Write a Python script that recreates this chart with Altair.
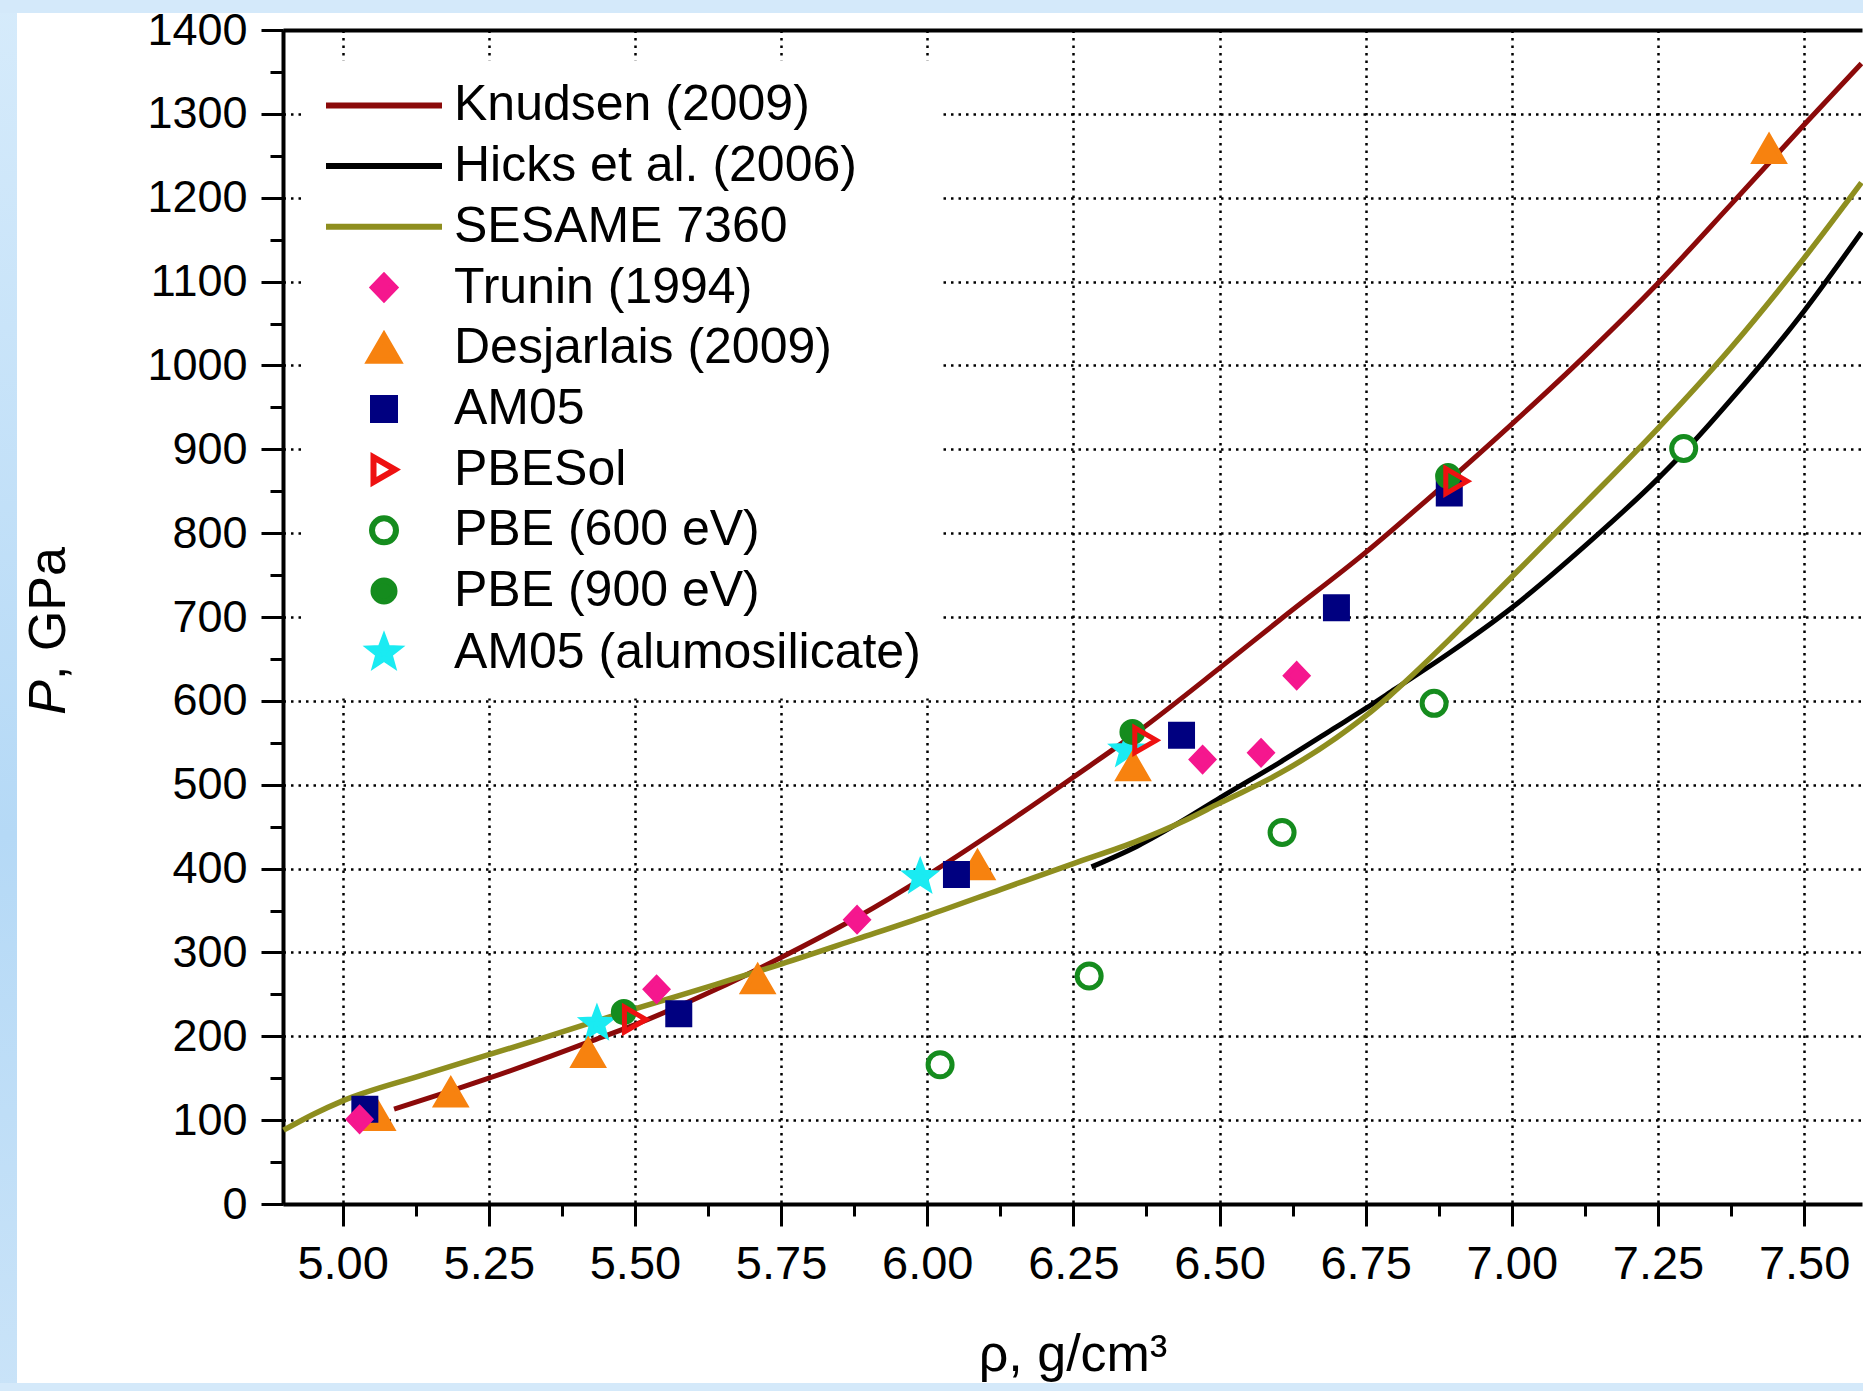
import altair as alt
import pandas as pd

# ---------------- data ----------------
knudsen_rho = [5.088, 5.185, 5.25, 5.355, 5.42, 5.497, 5.639, 5.75, 5.88, 6.00, 6.125, 6.25,
               6.36, 6.50, 6.604, 6.75, 6.875, 7.00, 7.126, 7.25, 7.375, 7.50, 7.598]
knudsen_p = [113, 135, 150, 176, 193, 213, 256, 294, 342, 392, 449, 509,
             563, 639, 697, 777, 852, 930, 1012, 1098, 1192, 1287, 1360]

hicks_rho = [6.281, 6.36, 6.439, 6.5, 6.604, 6.70, 6.75, 6.80, 6.893, 7.0, 7.127, 7.25,
             7.295, 7.376, 7.5, 7.598]
hicks_p = [402, 427, 458, 484, 527, 569, 591, 614, 657, 711, 786, 865,
           897, 960, 1065, 1159]

sesame_rho = [4.899, 4.95, 5.0, 5.128, 5.25, 5.338, 5.497, 5.639, 5.75, 5.88, 6.0, 6.125, 6.25,
              6.36, 6.44, 6.5, 6.604, 6.70, 6.75, 6.791, 6.893, 7.0, 7.127, 7.25, 7.376,
              7.5, 7.598]
sesame_p = [88, 107, 123, 152, 178, 197, 232, 262, 286, 316, 344, 375, 406,
            433, 457, 478, 514, 556, 582, 606, 673, 748, 837, 925, 1022,
            1128, 1218]

desjarlais_rho = [5.06, 5.185, 5.42, 5.71, 6.086, 6.352, 7.44]
desjarlais_p = [105, 133, 180, 268, 404, 522, 1258]

am05_rho = [5.038, 5.575, 6.05, 6.435, 6.70, 6.893]
am05_p = [113, 227, 393, 559, 711, 848]

alumo_rho = [5.435, 5.988, 6.342]
alumo_p = [215, 390, 541]

pbe600_rho = [6.022, 6.277, 6.607, 6.867, 7.294]
pbe600_p = [166, 272, 443, 597, 901]

pbe900_rho = [5.481, 6.351, 6.891]
pbe900_p = [229, 563, 868]

pbesol_rho = [5.500, 6.373, 6.905]
pbesol_p = [220, 553, 862]

trunin_rho = [5.029, 5.537, 5.88, 6.471, 6.571, 6.632]
trunin_p = [101, 256, 339, 530, 538, 630]

series_names = ["Knudsen (2009)", "Hicks et al. (2006)", "SESAME 7360", "Trunin (1994)",
                "Desjarlais (2009)", "AM05", "PBESol", "PBE (600 eV)", "PBE (900 eV)",
                "AM05 (alumosilicate)"]
series_stroke = ["#8B0A0A", "#000000", "#8E8E1F", "#F5178E", "#F7820F", "#000080",
                 "#EE1111", "#158C1E", "#158C1E", "#1AEBF2"]
series_fill = ["transparent", "transparent", "transparent", "#F5178E", "#F7820F", "#000080",
               "transparent", "white", "#158C1E", "#1AEBF2"]

LINE_SYM = "M-5.8,0H5.8"
DIAMOND = "M0,-1.15L1.1,0L0,1.15L-1.1,0Z"
TRI_UP = "M0,-1.25L1.45,1.25L-1.45,1.25Z"
SQUARE = "M-1.1,-1.1H1.1V1.1H-1.1Z"
TRI_RIGHT = "M1.1,0L-1.05,1.25L-1.05,-1.25Z"
CIRCLE_OPEN = "M1.2,0A1.2,1.2,0,1,1,-1.2,0A1.2,1.2,0,1,1,1.2,0Z"
CIRCLE_FULL = "M1.05,0A1.05,1.05,0,1,1,-1.05,0A1.05,1.05,0,1,1,1.05,0Z"
STAR = ("M0,-1.4L0.346,-0.476L1.331,-0.433L0.559,0.182L0.823,1.133L0,0.588"
        "L-0.823,1.133L-0.559,0.182L-1.331,-0.433L-0.346,-0.476Z")
series_shape = [LINE_SYM, LINE_SYM, LINE_SYM, DIAMOND, TRI_UP, SQUARE, TRI_RIGHT,
                CIRCLE_OPEN, CIRCLE_FULL, STAR]

x_ticks = [5.0, 5.25, 5.5, 5.75, 6.0, 6.25, 6.5, 6.75, 7.0, 7.25, 7.5]
x_minor = [5.125, 5.375, 5.625, 5.875, 6.125, 6.375, 6.625, 6.875, 7.125, 7.375]
y_ticks = [0, 100, 200, 300, 400, 500, 600, 700, 800, 900, 1000, 1100, 1200, 1300, 1400]
y_minor = [50, 150, 250, 350, 450, 550, 650, 750, 850, 950, 1050, 1150, 1250, 1350]

x_title = "ρ, g/cm³"
y_title_italic = "P"
y_title_rest = ", GPa"

# ---------------- layout constants ----------------
FONT = "Liberation Sans"
W, H = 1579, 1174
PAD_L, PAD_T, PAD_R, PAD_B = 283, 30, 1, 187

xs = alt.Scale(domain=[4.898, 7.599], nice=False, zero=False)
ys = alt.Scale(domain=[0, 1400], nice=False, zero=False)

GRID = dict(grid=True, gridDash=[2.5, 5], gridColor="black", gridWidth=2.5, gridOpacity=1)

major_x = alt.Axis(orient="bottom", values=x_ticks, format=".2f", labelFont=FONT,
                   labelFontSize=47, labelPadding=15, labelColor="black", labelFlush=False,
                   labelOverlap=False, tickSize=22, tickWidth=3, tickColor="black",
                   domainWidth=4, domainColor="black", title=x_title,
                   titleFont=FONT, titleFontSize=52, titleFontWeight="normal",
                   titleColor="black", titleY=166, titleBaseline="alphabetic", **GRID)
major_y = alt.Axis(orient="left", values=y_ticks, format="d", labelFont=FONT,
                   labelFontSize=45, labelPadding=14, labelColor="black", labelFlush=False,
                   labelOverlap=False, tickSize=22, tickWidth=3, tickColor="black",
                   domainWidth=4, domainColor="black", title=None, **GRID)
minor_x = alt.Axis(orient="bottom", values=x_minor, labels=False, domain=False, grid=False,
                   tickSize=12, tickWidth=3, tickColor="black", title=None)
minor_y = alt.Axis(orient="left", values=y_minor, labels=False, domain=False, grid=False,
                   tickSize=13, tickWidth=3, tickColor="black", title=None)
top_x = alt.Axis(orient="top", labels=False, ticks=False, grid=False, domain=True,
                 domainWidth=4, domainColor="black", title=None)


def line_layer(rho, p, color, ax_x, ax_y, width):
    df = pd.DataFrame({"rho": rho, "P": p})
    return alt.Chart(df).mark_line(color=color, strokeWidth=width, interpolate="monotone").encode(
        x=alt.X("rho:Q", scale=xs, axis=ax_x),
        y=alt.Y("P:Q", scale=ys, axis=ax_y),
    )


knudsen = line_layer(knudsen_rho, knudsen_p, series_stroke[0], major_x, major_y, 5)
hicks = line_layer(hicks_rho, hicks_p, series_stroke[1], minor_x, minor_y, 5)
sesame = line_layer(sesame_rho, sesame_p, series_stroke[2], top_x, None, 5.5)

# points (drawing order: bottom to top)
point_sets = [
    ("AM05 (alumosilicate)", alumo_rho, alumo_p),
    ("Desjarlais (2009)", desjarlais_rho, desjarlais_p),
    ("AM05", am05_rho, am05_p),
    ("PBE (600 eV)", pbe600_rho, pbe600_p),
    ("PBE (900 eV)", pbe900_rho, pbe900_p),
    ("PBESol", pbesol_rho, pbesol_p),
    ("Trunin (1994)", trunin_rho, trunin_p),
]
rows = []
for name, rr, pp in point_sets:
    for r, p in zip(rr, pp):
        rows.append({"series": name, "rho": r, "P": p})
pts_df = pd.DataFrame(rows)

leg = alt.Legend(title=None, orient="none", legendX=21, legendY=30.4, direction="vertical",
                 symbolSize=400, symbolStrokeWidth=6, symbolOffset=35, labelOffset=45,
                 labelFont=FONT, labelFontSize=50, labelColor="black", labelLimit=0,
                 rowPadding=10.7, padding=20, fillColor="white")

points = alt.Chart(pts_df).mark_point(size=400, strokeWidth=5, opacity=1).encode(
    x=alt.X("rho:Q", scale=xs, axis=None),
    y=alt.Y("P:Q", scale=ys, axis=None),
    shape=alt.Shape("series:N", scale=alt.Scale(domain=series_names, range=series_shape), legend=leg),
    fill=alt.Fill("series:N", scale=alt.Scale(domain=series_names, range=series_fill), legend=leg),
    stroke=alt.Stroke("series:N", scale=alt.Scale(domain=series_names, range=series_stroke), legend=leg),
)

# y-axis title with italic P
one = alt.Data(values=[{"a": y_title_italic, "b": y_title_rest}])
ytitle_p = alt.Chart(one).mark_text(font=FONT, fontSize=52, fontStyle="italic", angle=270,
                                    align="right", baseline="alphabetic", color="black").encode(
    text="a:N", x=alt.value(-218), y=alt.value(650))
ytitle_rest = alt.Chart(one).mark_text(font=FONT, fontSize=52, angle=270, align="left",
                                       baseline="alphabetic", color="black").encode(
    text="b:N", x=alt.value(-218), y=alt.value(650))

# light-blue frame strips around the white page
blank = alt.Data(values=[{"k": 1}])
side_grad = alt.LinearGradient(gradient="linear", x1=0, x2=0, y1=0, y2=1,
                               stops=[alt.GradientStop(color="#d6ebfb", offset=0),
                                      alt.GradientStop(color="#b5d9f6", offset=0.6),
                                      alt.GradientStop(color="#c9e3f8", offset=1)])
strip_left = alt.Chart(blank).mark_rect(color=side_grad).encode(
    x=alt.value(-PAD_L), x2=alt.value(-PAD_L + 17), y=alt.value(-PAD_T), y2=alt.value(H + PAD_B))
strip_top = alt.Chart(blank).mark_rect(color="#d4e9fa").encode(
    x=alt.value(-PAD_L), x2=alt.value(W + PAD_R), y=alt.value(-PAD_T), y2=alt.value(-PAD_T + 13))
strip_bottom = alt.Chart(blank).mark_rect(color="#d4e9fa").encode(
    x=alt.value(-PAD_L), x2=alt.value(W + PAD_R), y=alt.value(H + PAD_B - 8), y2=alt.value(H + PAD_B))

chart = alt.layer(
    strip_left, strip_top, strip_bottom,
    knudsen, hicks, sesame, points, ytitle_p, ytitle_rest,
).resolve_axis(x="independent", y="independent").properties(
    width=W, height=H,
    autosize=alt.AutoSizeParams(type="none"),
    padding={"left": PAD_L, "top": PAD_T, "right": PAD_R, "bottom": PAD_B},
    background="white",
).configure_view(strokeWidth=0)

chart.save("out.html", embed_options={"renderer": "svg", "actions": False})
